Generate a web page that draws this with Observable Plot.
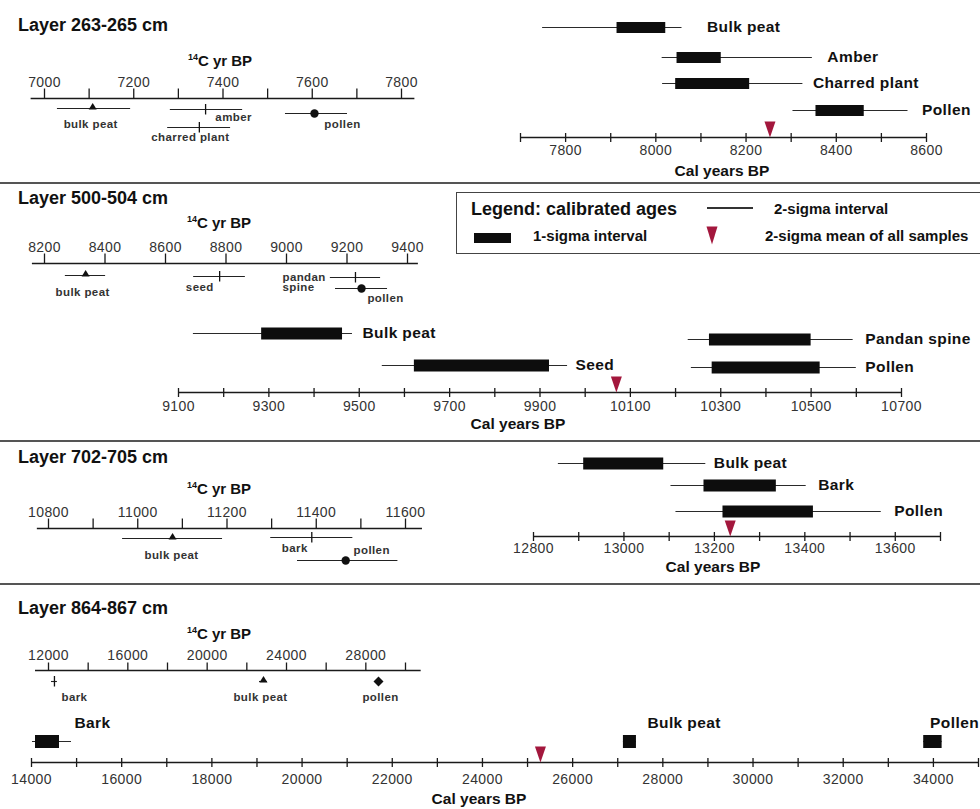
<!DOCTYPE html>
<html>
<head>
<meta charset="utf-8">
<script src="https://cdn.jsdelivr.net/npm/d3@7"></script>
<script src="https://cdn.jsdelivr.net/npm/@observablehq/plot@0.6"></script>
<style>
  html, body { margin: 0; padding: 0; background: #fff; overflow: hidden; }
  #fig { position: relative; width: 980px; height: 809px; background: #fff; overflow: hidden;
         font-family: "Liberation Sans", Arial, Helvetica, sans-serif; color: #111; }
  .abs { position: absolute; white-space: nowrap; line-height: 1; }
  .title { font-weight: bold; font-size: 18px; transform: translateY(-50%); }
  .hdr { font-weight: bold; font-size: 15px; transform: translate(-50%, -50%); }
  .hdr sup { font-size: 9px; vertical-align: 6px; line-height: 0; }
  .cal { font-weight: bold; font-size: 15.5px; transform: translate(-50%, -50%); }
  .sep { position: absolute; left: 0; width: 980px; height: 2px; background: #555; }
  .leg { font-weight: bold; font-size: 15px; transform: translateY(-50%); }
</style>
</head>
<body>
<div id="fig"></div>
<script>
// ======================= DATA =======================
const layerTitles = ["Layer 263-265 cm", "Layer 500-504 cm", "Layer 702-705 cm", "Layer 864-867 cm"];

// ---- 14C (uncalibrated) ages, small upper-left axes ----
const c14Names1 = ["bulk peat", "amber", "charred plant", "pollen"];
const c14Age1   = [7108, 7361, 7347, 7605];
const c14Lo1    = [7029, 7282, 7276, 7540];
const c14Hi1    = [7193, 7444, 7417, 7679];
const c14Ticks1 = [7000, 7100, 7200, 7300, 7400, 7500, 7600, 7700, 7800];
const c14Labels1 = [7000, 7200, 7400, 7600, 7800];
const c14Axis1  = [6970, 7830];

const c14Names2 = ["bulk peat", "seed", "pandan\nspine", "pollen"];
const c14Age2   = [8336, 8779, 9228, 9248];
const c14Lo2    = [8269, 8693, 9145, 9162];
const c14Hi2    = [8402, 8864, 9311, 9334];
const c14Ticks2 = [8200, 8400, 8600, 8800, 9000, 9200, 9400];
const c14Labels2 = [8200, 8400, 8600, 8800, 9000, 9200, 9400];
const c14Axis2  = [8160, 9436];

const c14Names3 = ["bulk peat", "bark", "pollen"];
const c14Age3   = [11078, 11390, 11466];
const c14Lo3    = [10966, 11298, 11358];
const c14Hi3    = [11190, 11482, 11583];
const c14Ticks3 = [10800, 10900, 11000, 11100, 11200, 11300, 11400, 11500, 11600];
const c14Labels3 = [10800, 11000, 11200, 11400, 11600];
const c14Axis3  = [10775, 11638];

const c14Names4 = ["bark", "bulk peat", "pollen"];
const c14Age4   = [12300, 22840, 28640];
const c14Lo4    = [12150, 22640, 28540];
const c14Hi4    = [12450, 23040, 28740];
const c14Ticks4 = [12000, 14000, 16000, 18000, 20000, 22000, 24000, 26000, 28000, 30000];
const c14Labels4 = [12000, 16000, 20000, 24000, 28000];
const c14Axis4  = [11345, 30790];

// ---- Calibrated ages (Cal years BP) ----
const calNames1 = ["Bulk peat", "Amber", "Charred plant", "Pollen"];
const cal2Lo1 = [7749, 8014, 8015, 8304];
const cal2Hi1 = [8058, 8347, 8326, 8559];
const cal1Lo1 = [7914, 8047, 8044, 8355];
const cal1Hi1 = [8022, 8145, 8208, 8462];
const calMean1 = 8253;
const calTicks1 = [7700, 7800, 7900, 8000, 8100, 8200, 8300, 8400, 8500, 8600];
const calLabels1 = [7800, 8000, 8200, 8400, 8600];

const calNames2 = ["Bulk peat", "Seed", "Pandan spine", "Pollen"];
const cal2Lo2 = [9133, 9551, 10228, 10235];
const cal2Hi2 = [9485, 9961, 10593, 10600];
const cal1Lo2 = [9284, 9622, 10275, 10281];
const cal1Hi2 = [9463, 9921, 10500, 10520];
const calMean2 = 10069;
const calTicks2 = [9100, 9200, 9300, 9400, 9500, 9600, 9700, 9800, 9900, 10000, 10100, 10200, 10300, 10400, 10500, 10600, 10700];
const calLabels2 = [9100, 9300, 9500, 9700, 9900, 10100, 10300, 10500, 10700];

const calNames3 = ["Bulk peat", "Bark", "Pollen"];
const cal2Lo3 = [12855, 13104, 13115];
const cal2Hi3 = [13181, 13403, 13569];
const cal1Lo3 = [12911, 13177, 13219];
const cal1Hi3 = [13088, 13337, 13419];
const calMean3 = 13235;
const calTicks3 = [12800, 12900, 13000, 13100, 13200, 13300, 13400, 13500, 13600, 13700];
const calLabels3 = [12800, 13000, 13200, 13400, 13600];

const calNames4 = ["Bark", "Bulk peat", "Pollen"];
const cal2Lo4 = [14022, 27126, 33785];
const cal2Hi4 = [14887, 27415, 34193];
const cal1Lo4 = [14089, 27126, 33785];
const cal1Hi4 = [14621, 27415, 34193];
const calMean4 = 25286;
const calTicks4 = [14000, 15000, 16000, 17000, 18000, 19000, 20000, 21000, 22000, 23000, 24000,
                   25000, 26000, 27000, 28000, 29000, 30000, 31000, 32000, 33000, 34000, 35000];
const calLabels4 = [14000, 16000, 18000, 20000, 22000, 24000, 26000, 28000, 30000, 32000, 34000];

const legendTitle = "Legend: calibrated ages";
const legendItems = ["2-sigma interval", "1-sigma interval", "2-sigma mean of all samples"];

// ======================= TABLES BUILT FROM THE ARRAYS =======================
const c14 = [
  {names: c14Names1, age: c14Age1, lo: c14Lo1, hi: c14Hi1, ticks: c14Ticks1, labels: c14Labels1, axis: c14Axis1},
  {names: c14Names2, age: c14Age2, lo: c14Lo2, hi: c14Hi2, ticks: c14Ticks2, labels: c14Labels2, axis: c14Axis2},
  {names: c14Names3, age: c14Age3, lo: c14Lo3, hi: c14Hi3, ticks: c14Ticks3, labels: c14Labels3, axis: c14Axis3},
  {names: c14Names4, age: c14Age4, lo: c14Lo4, hi: c14Hi4, ticks: c14Ticks4, labels: c14Labels4, axis: c14Axis4}
];
const cal = [
  {names: calNames1, lo2: cal2Lo1, hi2: cal2Hi1, lo1: cal1Lo1, hi1: cal1Hi1, mean: calMean1, ticks: calTicks1, labels: calLabels1},
  {names: calNames2, lo2: cal2Lo2, hi2: cal2Hi2, lo1: cal1Lo2, hi1: cal1Hi2, mean: calMean2, ticks: calTicks2, labels: calLabels2},
  {names: calNames3, lo2: cal2Lo3, hi2: cal2Hi3, lo1: cal1Lo3, hi1: cal1Hi3, mean: calMean3, ticks: calTicks3, labels: calLabels3},
  {names: calNames4, lo2: cal2Lo4, hi2: cal2Hi4, lo1: cal1Lo4, hi1: cal1Hi4, mean: calMean4, ticks: calTicks4, labels: calLabels4}
];

// ======================= LAYOUT (pixels, styles) =======================
const diamondSym = {draw(ctx) { ctx.moveTo(0, -5); ctx.lineTo(5, 0); ctx.lineTo(0, 5); ctx.lineTo(-5, 0); ctx.closePath(); }};

const layout = [
  { titleY: 25, sepY: 183,
    c14: {top: 62, height: 85, axisY: 98, px: [44, 401], tickLen: 10, pad: 12, hdr: [220, 60],
          lanes: [10, 11, 29, 15],
          lab: [[-2, 16, "middle"], [28, 8, "middle"], [-9, 10, "middle"], [28, 11, "middle"]], pollen: "circle"},
    cal: {top: 10, height: 160, axisY: 137, px: [520, 926], rows: [110, 80, 54, 27],
          dx: [25, 15, 10, 14], dy: 0, pad: 8, barH: 11, axisLabel: [722, 171]} },
  { titleY: 198, sepY: 441,
    c14: {top: 228, height: 80, axisY: 263, px: [44, 407], tickLen: 10, pad: 12, hdr: [219, 222],
          lanes: [12, 13, 14, 25],
          lab: [[-3, 17, "middle"], [-6, 11, "end"], [-73, 5, "start"], [24, 10, "middle"]], pollen: "circle"},
    cal: {top: 315, height: 110, axisY: 392, px: [178, 901], rows: [59, 27, 53, 25],
          dx: [10, 8, 12, 9], dy: 0, pad: 9, barH: 12, axisLabel: [518, 424]} },
  { titleY: 457, sepY: 584,
    c14: {top: 493, height: 75, axisY: 528, px: [48, 405], tickLen: 10, pad: 12, hdr: [219, 488],
          lanes: [10, 9, 32],
          lab: [[-1, 17, "middle"], [-17, 11, "middle"], [26, -10, "middle"]], pollen: "circle"},
    cal: {top: 450, height: 105, axisY: 536, px: [533, 940], rows: [73, 51, 25],
          dx: [8, 12, 13], dy: 0, pad: 7, barH: 12, axisLabel: [713, 567]} },
  { titleY: 608, sepY: null,
    c14: {top: 638, height: 67, axisY: 670, px: [48, 405], tickLen: 8, pad: 11, hdr: [219, 633],
          lanes: [11, 11, 11],
          lab: [[20, 16, "middle"], [-3, 16, "middle"], [2, 16, "middle"]], pollen: diamondSym},
    cal: {top: 712, height: 80, axisY: 762, px: [31, 978], rows: [21, 21, 21],
          dx: [3, 11, -12], dy: -18, pad: 12, barH: 13, axisLabel: [479, 799]} }
];

const FONT = '"Liberation Sans", Arial, Helvetica, sans-serif';
const INK = "#1a1a1a";
const MEAN_RED = "#a3173d";

// custom symbols (fixed pixel size)
const crossTick = {draw(ctx) { ctx.moveTo(0, -4.5); ctx.lineTo(0, 4.5); }};
const upTick = len => ({draw(ctx) { ctx.moveTo(0, -len); ctx.lineTo(0, 0); }});
const vTick = {draw(ctx) { ctx.moveTo(0, -5.5); ctx.lineTo(0, 5); }};
const upTri = {draw(ctx) { ctx.moveTo(-4, 1); ctx.lineTo(4, 1); ctx.lineTo(0, -5.5); ctx.closePath(); }};
const meanTri = {draw(ctx) { ctx.moveTo(-5.5, -16); ctx.lineTo(5.5, -16); ctx.lineTo(0, 0); ctx.closePath(); }};

const fmt = d => String(d);

function baseStyle(top, left) {
  return {position: "absolute", left: left + "px", top: top + "px", background: "transparent",
          overflow: "visible", fontFamily: FONT, fontSize: "14px", color: "#333", letterSpacing: "0.4px",
          maxWidth: "none"};
}

function c14Plot(i) {
  const L = layout[i].c14, C = c14[i];
  const axisLocal = L.axisY - L.top;
  const below = L.height - axisLocal;
  const pts = C.names.map((n, j) => ({name: n, age: C.age[j], lo: C.lo[j], hi: C.hi[j], lane: L.lanes[j], lab: L.lab[j]}));
  const kind = n => n.startsWith("bulk") ? "tri" : n.startsWith("pollen") ? "dot" : "tick";
  return Plot.plot({
    width: 440, height: L.height,
    marginTop: axisLocal, marginBottom: 0, marginLeft: 0, marginRight: 0,
    style: baseStyle(L.top, 0),
    x: {domain: [C.ticks[0], C.ticks[C.ticks.length - 1]], range: L.px},
    y: {domain: [0, below], range: [axisLocal, L.height], axis: null},
    marks: [
      Plot.ruleY([0], {x1: C.axis[0], x2: C.axis[1], stroke: INK, strokeWidth: 1.4}),
      Plot.dot(C.ticks, {x: d => d, y: 0, r: 3, symbol: upTick(L.tickLen), stroke: INK, strokeWidth: 1.3, fill: "none"}),
      Plot.axisX({anchor: "top", ticks: C.labels, tickSize: 0, tickPadding: L.pad, tickFormat: fmt}),
      Plot.ruleY(pts, {y: "lane", x1: "lo", x2: "hi", stroke: "#222", strokeWidth: 1.1}),
      Plot.dot(pts.filter(p => kind(p.name) === "tri"), {x: "age", y: "lane", r: 4, symbol: upTri, fill: "#111", stroke: "none"}),
      Plot.dot(pts.filter(p => kind(p.name) === "tick"), {x: "age", y: "lane", r: 4, symbol: vTick, stroke: "#111", strokeWidth: 1.3, fill: "none"}),
      Plot.dot(pts.filter(p => kind(p.name) === "dot"), {x: "age", y: "lane", r: 4.2, symbol: L.pollen, fill: "#111", stroke: "none"}),
      ...pts.map(p => Plot.text([p], {x: "age", y: "lane", text: "name", dx: p.lab[0], dy: p.lab[1],
          textAnchor: p.lab[2], fontSize: 11.5, fontWeight: "bold", fill: "#333", lineHeight: 0.95}))
    ]
  });
}

function calPlot(i) {
  const L = layout[i].cal, C = cal[i];
  const axisLocal = L.axisY - L.top;
  const dom = [C.ticks[0], C.ticks[C.ticks.length - 1]];
  const rows = C.names.map((n, j) => ({name: n, lo2: C.lo2[j], hi2: C.hi2[j], lo1: C.lo1[j], hi1: C.hi1[j], row: L.rows[j], dx: L.dx[j]}));
  return Plot.plot({
    width: 980, height: L.height,
    marginTop: 0, marginLeft: 0, marginRight: 0, marginBottom: L.height - axisLocal,
    style: baseStyle(L.top, 0),
    x: {domain: dom, range: L.px},
    y: {domain: [0, axisLocal], range: [axisLocal, 0], axis: null},
    marks: [
      Plot.ruleY([0], {x1: dom[0], x2: dom[1], stroke: INK, strokeWidth: 1.4}),
      Plot.dot(C.ticks, {x: d => d, y: 0, r: 3, symbol: crossTick, stroke: INK, strokeWidth: 1.3, fill: "none"}),
      Plot.axisX({anchor: "bottom", ticks: C.labels, tickSize: 0, tickPadding: L.pad, tickFormat: fmt}),
      Plot.ruleY(rows, {y: "row", x1: "lo2", x2: "hi2", stroke: "#2a2a2a", strokeWidth: 1.2}),
      Plot.ruleY(rows, {y: "row", x1: "lo1", x2: "hi1", stroke: "#0d0d0d", strokeWidth: L.barH}),
      ...rows.map(r => Plot.text([r], {x: "hi2", y: "row", text: "name", dx: r.dx, dy: L.dy, textAnchor: "start",
          fontSize: 15.5, fontWeight: "bold", fill: "#111"})),
      Plot.dot([C.mean], {x: d => d, y: 0, r: 5, symbol: meanTri, fill: MEAN_RED, stroke: "none"})
    ]
  });
}

// ======================= BUILD PAGE =======================
const fig = document.getElementById("fig");
function addDiv(cls, html, x, y) {
  const d = document.createElement("div");
  d.className = "abs " + cls;
  d.innerHTML = html;
  d.style.left = x + "px";
  d.style.top = y + "px";
  fig.appendChild(d);
  return d;
}

layout.forEach((lay, i) => {
  addDiv("title", layerTitles[i], 18, lay.titleY);
  addDiv("hdr", "<sup>14</sup>C yr BP", lay.c14.hdr[0], lay.c14.hdr[1]);
  addDiv("cal", "Cal years BP", lay.cal.axisLabel[0], lay.cal.axisLabel[1]);
  fig.appendChild(c14Plot(i));
  fig.appendChild(calPlot(i));
  if (lay.sepY != null) {
    const s = document.createElement("div");
    s.className = "sep";
    s.style.top = (lay.sepY - 1) + "px";
    fig.appendChild(s);
  }
});

// legend box
const box = document.createElement("div");
box.style.cssText = "position:absolute;left:456px;top:192px;width:530px;height:62px;border:1.5px solid #444;box-sizing:border-box;background:transparent;";
fig.appendChild(box);
addDiv("leg", legendTitle, 471, 209).style.fontSize = "18px";
const ln = document.createElement("div");
ln.style.cssText = "position:absolute;left:707px;top:207px;width:46px;height:1.5px;background:#333;";
fig.appendChild(ln);
addDiv("leg", legendItems[0], 774, 208);
const rc = document.createElement("div");
rc.style.cssText = "position:absolute;left:474px;top:233px;width:37px;height:10px;background:#0d0d0d;";
fig.appendChild(rc);
addDiv("leg", legendItems[1], 533, 235);
addDiv("", `<svg width="12" height="19"><path d="M0.5,0.5L11.5,0.5L6,18.5Z" fill="${MEAN_RED}"/></svg>`, 706, 226);
addDiv("leg", legendItems[2], 765, 235);
</script>
</body>
</html>
